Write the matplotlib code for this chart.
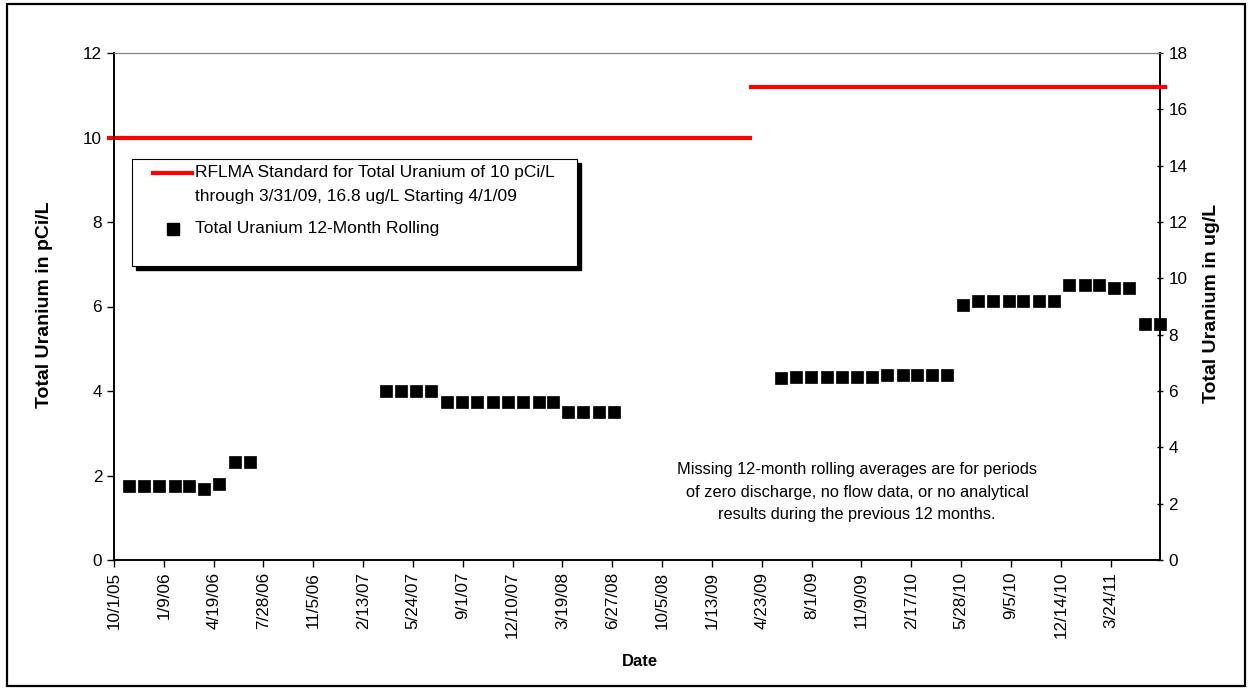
import pandas as pd
import matplotlib
matplotlib.use('Agg')
import matplotlib.pyplot as plt
import matplotlib.dates as mdates
from matplotlib.patches import Rectangle
from matplotlib.lines import Line2D

plt.rcParams['font.family'] = ['Liberation Sans', 'DejaVu Sans']

# 12-month rolling averages in pCi/L (before the standard changed)
dates_pci = ['2005-10-31', '2005-11-30', '2005-12-31', '2006-01-31', '2006-02-28',
             '2006-03-31', '2006-04-30', '2006-05-31', '2006-06-30',
             '2007-03-31', '2007-04-30', '2007-05-31', '2007-06-30',
             '2007-07-31', '2007-08-31', '2007-09-30', '2007-10-31', '2007-11-30',
             '2007-12-31', '2008-01-31', '2008-02-29',
             '2008-03-31', '2008-04-30', '2008-05-31', '2008-06-30']
values_pci = [1.76, 1.76, 1.76, 1.76, 1.76, 1.68, 1.79, 2.33, 2.33,
              4.0, 4.0, 4.0, 4.0,
              3.75, 3.75, 3.75, 3.75, 3.75, 3.75, 3.75, 3.75,
              3.5, 3.5, 3.5, 3.5]

# 12-month rolling averages in ug/L (right axis)
dates_ug = ['2009-05-31', '2009-06-30', '2009-07-31', '2009-08-31', '2009-09-30',
            '2009-10-31', '2009-11-30', '2009-12-31', '2010-01-31', '2010-02-28',
            '2010-03-31', '2010-04-30', '2010-05-31', '2010-06-30', '2010-07-31',
            '2010-08-31', '2010-09-30', '2010-10-31', '2010-11-30', '2010-12-31',
            '2011-01-31', '2011-02-28', '2011-03-31', '2011-04-30', '2011-05-31',
            '2011-06-30']
values_ug = [6.45, 6.51, 6.51, 6.51, 6.51, 6.51, 6.51, 6.57, 6.57, 6.57, 6.57, 6.57,
             9.06, 9.2, 9.2, 9.2, 9.2, 9.2, 9.2, 9.77, 9.77, 9.77, 9.65, 9.65,
             8.37, 8.37]

# RFLMA standard: 10 pCi/L through 3/31/09, 16.8 ug/L starting 4/1/09
std_old_dates = ['2005-09-21', '2009-03-31']
std_old = [10, 10]
std_new_dates = ['2009-04-01', '2011-07-12']
std_new = [16.8, 16.8]

tick_dates = ['2005-10-01', '2006-01-09', '2006-04-19', '2006-07-28', '2006-11-05',
              '2007-02-13', '2007-05-24', '2007-09-01', '2007-12-10', '2008-03-19',
              '2008-06-27', '2008-10-05', '2009-01-13', '2009-04-23', '2009-08-01',
              '2009-11-09', '2010-02-17', '2010-05-28', '2010-09-05', '2010-12-14',
              '2011-03-24']

W, H = 1252, 691


def fx(px):
    return px / W


def fy(py):
    return 1 - py / H


fig = plt.figure(figsize=(W / 100, H / 100), dpi=100)
ax = fig.add_axes([114 / W, 1 - 560 / H, (1160 - 114) / W, (560 - 53) / H])
ax2 = ax.twinx()

red = '#ff0000'
ax.plot(pd.to_datetime(std_old_dates), std_old, color=red, lw=3, clip_on=False, zorder=3)
ax2.plot(pd.to_datetime(std_new_dates), std_new, color=red, lw=3, clip_on=False, zorder=3)

ax.plot(pd.to_datetime(dates_pci), values_pci, 's', color='black', ms=9, mew=0.5,
        zorder=4)
ax2.plot(pd.to_datetime(dates_ug), values_ug, 's', color='black', ms=9, mew=0.5,
         zorder=4, clip_on=False)

ax.set_xlim(pd.Timestamp('2005-10-01'), pd.Timestamp('2011-07-01'))
ax.set_ylim(0, 12)
ax2.set_ylim(0, 18)
ax.set_yticks(range(0, 13, 2))
ax2.set_yticks(range(0, 19, 2))

ax.set_xticks(pd.to_datetime(tick_dates))
ax.xaxis.set_major_formatter(mdates.DateFormatter('%-m/%-d/%y'))
ax.tick_params(axis='x', rotation=90, labelsize=12.3, length=5, width=1, direction='out')
ax.tick_params(axis='y', labelsize=12.3, length=5, width=1, direction='out')
ax2.tick_params(axis='y', labelsize=12.3, length=5, width=1, direction='inout')

for a in (ax, ax2):
    a.spines['top'].set_color('#808080')
    for s in ('left', 'right', 'bottom'):
        a.spines[s].set_color('black')
        a.spines[s].set_linewidth(1.2)

fig.text(fx(640), fy(661), 'Date', fontsize=12, fontweight='bold',
         ha='center', va='center')
fig.text(fx(45), fy(305), 'Total Uranium in pCi/L', fontsize=14, fontweight='bold',
         ha='center', va='center', rotation=90)
fig.text(fx(1212), fy(303), 'Total Uranium in ug/L', fontsize=14, fontweight='bold',
         ha='center', va='center', rotation=90)

fig.text(fx(857), fy(492), 'Missing 12-month rolling averages are for periods\n'
         'of zero discharge, no flow data, or no analytical\n'
         'results during the previous 12 months.',
         ha='center', va='center', fontsize=11.8, linespacing=1.6)

# legend box with shadow
fig.add_artist(Rectangle((fx(136), fy(270)), fx(577 - 132), (265 - 158) / H,
                         facecolor='black', edgecolor='black', zorder=5))
fig.add_artist(Rectangle((fx(132), fy(266)), fx(577 - 132), (265 - 158) / H,
                         facecolor='white', edgecolor='black', lw=0.8, zorder=6))
fig.add_artist(Line2D([fx(153), fx(192)], [fy(173), fy(173)], color=red, lw=3, zorder=7))
fig.text(fx(195), fy(173), 'RFLMA Standard for Total Uranium of 10 pCi/L',
         va='center', ha='left', fontsize=12.5, zorder=7)
fig.text(fx(195), fy(196), 'through 3/31/09, 16.8 ug/L Starting 4/1/09',
         va='center', ha='left', fontsize=12.5, zorder=7)
fig.add_artist(Line2D([fx(173)], [fy(229)], marker='s', color='black', ms=9,
                      ls='none', zorder=7))
fig.text(fx(195), fy(229), 'Total Uranium 12-Month Rolling',
         va='center', ha='left', fontsize=12.5, zorder=7)

# outer border
fig.add_artist(Rectangle((fx(7), fy(686)), fx(1245 - 7), (686 - 4) / H,
                         facecolor='none', edgecolor='black', lw=1.6, zorder=10))

fig.savefig('out.png', dpi=100)
